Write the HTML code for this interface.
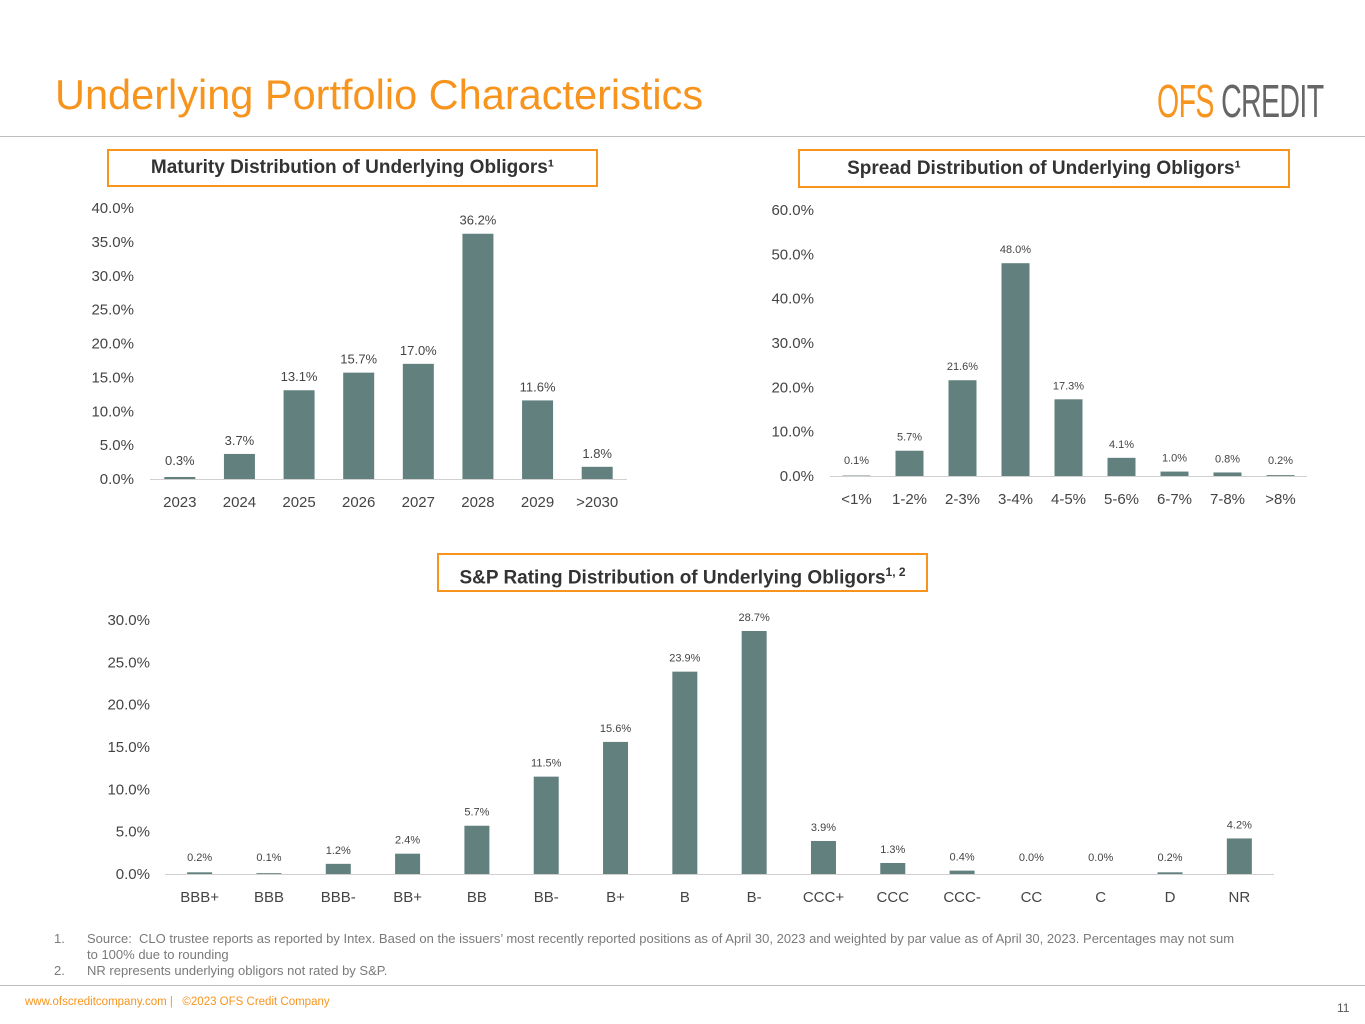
<!DOCTYPE html>
<html><head><meta charset="utf-8">
<style>
html,body{margin:0;padding:0;background:#fff;}
body{width:1365px;height:1024px;position:relative;overflow:hidden;font-family:"Liberation Sans",sans-serif;}
.title{position:absolute;left:55px;top:71px;font-size:41.5px;color:#F7941D;letter-spacing:0px;white-space:nowrap;}
.logo{position:absolute;left:1157px;top:78px;font-size:46px;letter-spacing:-1px;transform:scaleX(0.62);transform-origin:left top;white-space:nowrap;line-height:1;}
.hr{position:absolute;left:0;width:1365px;height:1px;background:#bdbdbd;}
.box{position:absolute;border:2px solid #F7941D;box-sizing:border-box;font-weight:bold;color:#333;font-size:19px;text-align:center;white-space:nowrap;}
.foot{position:absolute;font-size:13px;color:#7a7a7a;}
svg{position:absolute;left:0;top:0;}
</style></head><body>
<div class="title">Underlying Portfolio Characteristics</div>
<div class="logo"><span style="color:#F7941D">OFS</span><span style="color:#666"> CREDIT</span></div>
<div class="hr" style="top:136px"></div>
<div class="box" style="left:107px;top:149px;width:491px;height:38px;line-height:34px">Maturity Distribution of Underlying Obligors¹</div>
<div class="box" style="left:798px;top:149px;width:492px;height:39px;line-height:35px">Spread Distribution of Underlying Obligors¹</div>
<div class="box" style="left:437px;top:553px;width:491px;height:39px;line-height:35px">S&amp;P Rating Distribution of Underlying Obligors<sup style="font-size:12px">1, 2</sup></div>
<svg width="1365" height="1024" id="charts"></svg>
<div class="foot" style="left:54px;top:931px;width:1190px;line-height:16px"><span style="position:absolute;left:0">1.</span><div style="margin-left:33px">Source:&nbsp; CLO trustee reports as reported by Intex. Based on the issuers’ most recently reported positions as of April 30, 2023 and weighted by par value as of April 30, 2023. Percentages may not sum to 100% due to rounding</div></div>
<div class="foot" style="left:54px;top:963px;"><span style="position:absolute;left:0">2.</span><span style="margin-left:33px">NR represents underlying obligors not rated by S&amp;P.</span></div>
<div class="hr" style="top:985px"></div>
<div class="foot" style="left:25px;top:996px;font-size:11.5px;color:#F7941D">www.ofscreditcompany.com |&nbsp;&nbsp; ©2023 OFS Credit Company</div>
<div class="foot" style="left:1337px;top:1001px;font-size:12px;color:#555">11</div>
<script>
const matCats=["2023","2024","2025","2026","2027","2028","2029",">2030"];
const matVals=[0.3,3.7,13.1,15.7,17.0,36.2,11.6,1.8];
const matTicks=[0,5,10,15,20,25,30,35,40];
const sprCats=["<1%","1-2%","2-3%","3-4%","4-5%","5-6%","6-7%","7-8%",">8%"];
const sprVals=[0.1,5.7,21.6,48.0,17.3,4.1,1.0,0.8,0.2];
const sprTicks=[0,10,20,30,40,50,60];
const ratCats=["BBB+","BBB","BBB-","BB+","BB","BB-","B+","B","B-","CCC+","CCC","CCC-","CC","C","D","NR"];
const ratVals=[0.2,0.1,1.2,2.4,5.7,11.5,15.6,23.9,28.7,3.9,1.3,0.4,0.0,0.0,0.2,4.2];
const ratTicks=[0,5,10,15,20,25,30];

const svg=document.getElementById('charts');
const NS='http://www.w3.org/2000/svg';
function mk(tag,attrs,text){const e=document.createElementNS(NS,tag);for(const k in attrs)e.setAttribute(k,attrs[k]);if(text!==undefined)e.textContent=text;svg.appendChild(e);return e;}
function chart(name,cats,vals,ticks,c){
  const maxT=ticks[ticks.length-1];
  const y=v=>c.y0-(v/maxT)*(c.y0-c.yTop);
  const step=(c.x1-c.x0)/cats.length;
  const x=i=>c.x0+step*(i+0.5);
  ticks.forEach(t=>{
    const e=mk('text',{x:c.tickX,y:y(t)+5,'text-anchor':'end','font-size':c.tfs,fill:'#444','font-family':'Liberation Sans, sans-serif'},t.toFixed(1)+'%');
    
    
  });
  const ax=mk('line',{x1:c.x0,x2:c.x1,y1:c.y0+0.5,y2:c.y0+0.5,stroke:'#d0d0d0','stroke-width':1});
  
  
  cats.forEach((cat,i)=>{
    const v=vals[i];const top=y(v);
    const r=mk('rect',{x:x(i)-c.bw/2,y:top,width:c.bw,height:Math.max(c.y0-top,0),fill:'#62817E'});
    
    
    const ly=Math.min(top-c.lgap,c.y0-c.lmin);
    const l=mk('text',{x:x(i),y:ly,'text-anchor':'middle','font-size':c.lfs,fill:'#444','font-family':'Liberation Sans, sans-serif'},v.toFixed(1)+'%');
    
    
    const t=mk('text',{x:x(i),y:c.y0+c.catDy,'text-anchor':'middle','font-size':c.tfs,fill:'#444','font-family':'Liberation Sans, sans-serif'},cat);
    
    
  });
}
chart('maturity',matCats,matVals,matTicks,{x0:150,x1:627,y0:479,yTop:208,tickX:134,bw:31,tfs:15,lfs:13,lgap:9,lmin:14,catDy:28});
chart('spread',sprCats,sprVals,sprTicks,{x0:830,x1:1307,y0:476,yTop:210,tickX:814,bw:28,tfs:15,lfs:11,lgap:10,lmin:12,catDy:28});
chart('rating',ratCats,ratVals,ratTicks,{x0:165,x1:1274,y0:874,yTop:620,tickX:150,bw:25,tfs:15,lfs:11,lgap:10,lmin:13,catDy:28});
</script>
</body></html>
